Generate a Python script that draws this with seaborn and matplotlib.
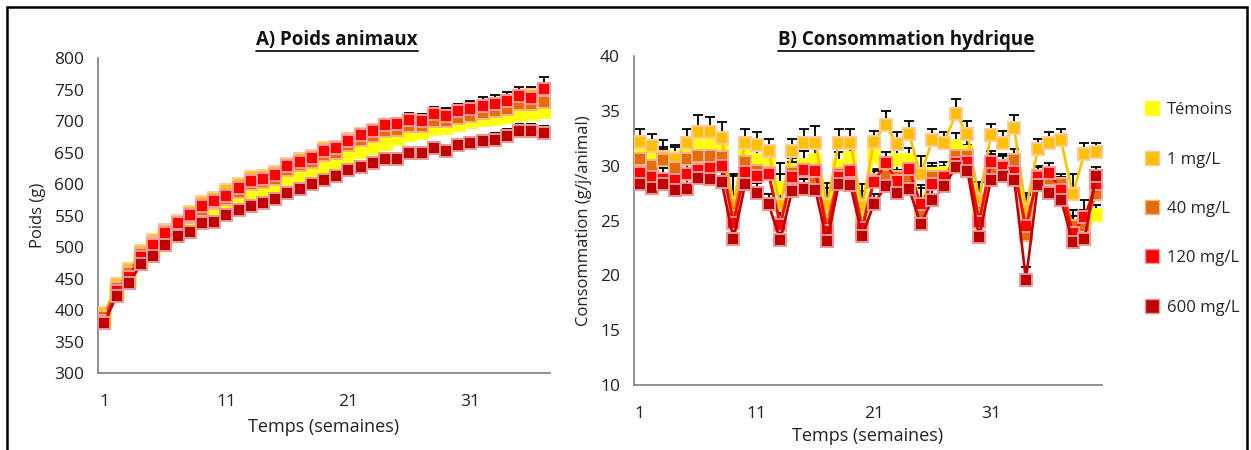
import numpy as np
import pandas as pd
import matplotlib
matplotlib.use("Agg")
import matplotlib.pyplot as plt
from matplotlib.lines import Line2D
from matplotlib.patches import Rectangle
import seaborn as sns

# ---------------- data ----------------
groups = ["Témoins", "1 mg/L", "40 mg/L", "120 mg/L", "600 mg/L"]
colors = ["#FFFF00", "#FFC000", "#E46C0A", "#FF0000", "#C00000"]
edges = ["#FFFF30", "#FCCB9A", "#F2B38A", "#FF9A9A", "#E59A9A"]

weeks_a = list(range(1, 38))
poids_temoins = [385, 430, 450, 480, 498, 517, 527, 538, 551, 562, 569, 578, 586, 591, 597, 610, 615, 620, 628,
                 636, 645, 653, 660, 666, 674, 680, 683, 690, 691, 696, 700, 703, 706, 708, 712, 713, 716]
poids_1 = [395, 441, 465, 494, 512, 528, 542, 556, 572, 578, 591, 600, 612, 614, 620, 632, 640, 645, 657,
           660, 672, 680, 686, 694, 695, 700, 700, 708, 707, 713, 717, 721, 725, 729, 735, 742, 745]
poids_40 = [390, 435, 459, 490, 507, 524, 538, 548, 560, 570, 577, 588, 600, 604, 608, 622, 630, 636, 646,
            650, 662, 670, 676, 684, 686, 692, 692, 700, 700, 706, 709, 713, 717, 720, 727, 728, 731]
poids_120 = [383, 430, 453, 485, 503, 522, 539, 551, 565, 574, 581, 594, 606, 609, 615, 629, 636, 642, 653,
             657, 669, 678, 685, 694, 695, 702, 701, 711, 709, 716, 720, 725, 728, 733, 740, 737, 751]
poids_600 = [380, 423, 443, 473, 487, 504, 518, 524, 538, 540, 551, 559, 566, 571, 576, 587, 592, 600, 607,
             613, 622, 628, 634, 640, 640, 649, 650, 657, 653, 662, 665, 669, 671, 677, 685, 685, 681]

err_poids_temoins = [4, 4, 5, 5, 5, 5, 6, 6, 6, 6, 6, 7, 7, 7, 7, 7, 8, 8, 8,
                     8, 8, 8, 9, 9, 9, 9, 9, 10, 10, 10, 10, 10, 10, 11, 11, 11, 12]
err_poids_1 = [5, 5, 5, 6, 6, 6, 6, 7, 7, 7, 7, 8, 8, 8, 8, 8, 9, 9, 9,
               9, 9, 10, 10, 10, 10, 10, 11, 11, 11, 11, 12, 12, 12, 12, 13, 13, 14]
err_poids_40 = [5, 5, 5, 6, 6, 6, 6, 7, 7, 7, 7, 8, 8, 8, 8, 8, 9, 9, 9,
                9, 9, 10, 10, 10, 10, 10, 11, 11, 11, 11, 12, 12, 12, 12, 13, 13, 14]
err_poids_120 = [5, 5, 6, 6, 6, 6, 7, 7, 7, 7, 8, 8, 8, 8, 8, 9, 9, 9, 9,
                 9, 10, 10, 10, 10, 10, 11, 11, 12, 12, 12, 12, 13, 13, 13, 14, 15, 20]
err_poids_600 = [4, 4, 5, 5, 5, 5, 6, 6, 6, 6, 6, 7, 7, 7, 7, 7, 8, 8, 8,
                 8, 8, 8, 9, 9, 9, 9, 9, 10, 10, 10, 10, 10, 10, 11, 11, 11, 12]

weeks_b = list(range(1, 41))
conso_temoins = [31.4, 31.0, 30.5, 30.7, 31.5, 32.1, 32.1, 31.8, 26.6, 31.5, 30.5, 30.5, 28.0, 29.6,
                 30.1, 30.5, 26.0, 30.0, 30.7, 25.7, 30.9, 28.7, 30.5, 30.5, 26.5, 29.2, 29.3, 31.8,
                 31.2, 25.4, 30.1, 30.0, 29.9, 25.8, 28.1, 28.7, 28.0, 24.2, 23.6, 25.5]
conso_1 = [32.2, 31.8, 30.8, 30.6, 32.1, 33.1, 33.1, 32.5, 26.5, 32.1, 31.9, 31.3, 26.4, 31.3,
           32.1, 32.1, 26.4, 32.1, 32.1, 26.3, 32.2, 33.7, 32.0, 32.9, 29.2, 32.3, 32.1, 34.7,
           32.9, 26.9, 32.8, 32.1, 33.4, 26.0, 31.5, 32.1, 32.3, 27.4, 31.1, 31.2]
conso_40 = [30.6, 30.0, 30.5, 29.8, 30.6, 30.9, 30.9, 30.8, 25.4, 30.3, 29.5, 29.3, 24.8, 29.3,
            29.5, 28.9, 24.8, 29.2, 29.3, 24.6, 28.7, 29.1, 29.0, 28.8, 25.5, 29.0, 28.8, 30.9,
            30.9, 25.0, 29.6, 30.0, 30.5, 23.7, 29.1, 28.8, 28.3, 24.5, 24.5, 27.4]
conso_120 = [29.3, 29.0, 28.8, 28.7, 29.2, 29.6, 29.8, 30.0, 24.8, 29.4, 29.1, 29.2, 24.6, 29.0,
             29.6, 29.5, 24.0, 29.0, 29.5, 24.3, 28.5, 30.2, 28.6, 29.7, 26.5, 28.3, 29.0, 30.2,
             30.3, 24.9, 30.3, 29.9, 29.4, 24.5, 29.0, 29.3, 27.8, 23.9, 25.3, 28.3]
conso_600 = [28.3, 28.0, 28.3, 27.8, 27.9, 28.9, 28.8, 28.5, 23.3, 28.3, 27.5, 26.5, 23.2, 27.7,
             27.9, 27.8, 23.1, 28.3, 28.2, 23.6, 26.5, 28.1, 27.5, 27.9, 24.7, 26.9, 28.1, 29.9,
             29.5, 23.5, 28.7, 29.1, 28.7, 19.6, 28.2, 27.5, 26.9, 23.0, 23.3, 29.1]

err_conso_temoins = [1.0, 1.0, 1.2, 1.0, 1.1, 1.3, 1.3, 1.2, 2.6, 1.1, 1.2, 1.1, 2.2, 1.1,
                     1.2, 1.2, 2.0, 1.2, 1.2, 2.0, 1.0, 1.2, 1.1, 1.1, 1.7, 1.0, 1.0, 1.2,
                     1.1, 1.6, 1.0, 1.1, 1.2, 1.5, 0.9, 1.0, 1.0, 1.8, 1.5, 0.9]
err_conso_1 = [1.1, 1.1, 1.5, 1.3, 1.2, 1.5, 1.3, 1.5, 2.6, 1.2, 1.2, 1.1, 2.8, 1.1,
               1.2, 1.5, 2.0, 1.2, 1.2, 2.0, 1.0, 1.3, 1.1, 1.2, 1.7, 1.0, 1.0, 1.4,
               1.2, 1.6, 1.0, 1.1, 1.2, 1.5, 0.9, 1.0, 1.0, 1.8, 1.0, 0.9]
err_conso_40 = [0.9, 0.9, 1.0, 1.0, 1.0, 1.1, 1.1, 1.0, 2.0, 1.0, 1.0, 1.0, 2.0, 1.0,
                1.0, 1.0, 1.8, 1.0, 1.0, 1.8, 1.0, 1.0, 1.0, 1.0, 1.5, 1.0, 1.0, 1.0,
                1.0, 1.5, 1.0, 1.0, 1.0, 1.5, 0.9, 0.9, 0.9, 1.5, 1.5, 0.9]
err_conso_120 = [0.9, 0.9, 1.0, 1.0, 1.0, 1.1, 1.1, 1.0, 2.0, 1.0, 1.0, 1.0, 2.0, 1.0,
                 1.0, 1.0, 1.8, 1.0, 1.0, 1.8, 1.0, 1.0, 1.0, 1.0, 1.5, 1.0, 1.0, 1.0,
                 1.0, 1.5, 1.0, 1.0, 1.0, 1.5, 0.9, 0.9, 0.9, 1.5, 1.6, 0.9]
err_conso_600 = [0.8, 0.8, 0.9, 0.9, 0.9, 1.0, 1.0, 0.9, 1.8, 0.9, 0.9, 0.9, 1.8, 0.9,
                 0.9, 0.9, 1.6, 0.9, 0.9, 1.6, 0.9, 0.9, 0.9, 0.9, 1.4, 0.9, 0.9, 0.9,
                 0.9, 1.4, 0.9, 0.9, 0.9, 1.2, 0.8, 0.8, 0.8, 1.4, 1.4, 0.8]

poids = [poids_temoins, poids_1, poids_40, poids_120, poids_600]
err_poids = [err_poids_temoins, err_poids_1, err_poids_40, err_poids_120, err_poids_600]
conso = [conso_temoins, conso_1, conso_40, conso_120, conso_600]
err_conso = [err_conso_temoins, err_conso_1, err_conso_40, err_conso_120, err_conso_600]


def long_df(weeks, series):
    frames = []
    for g, vals in zip(groups, series):
        frames.append(pd.DataFrame({"semaine": weeks, "valeur": vals, "groupe": g}))
    return pd.concat(frames, ignore_index=True)


# ---------------- figure ----------------
sns.set_theme(style="white")
plt.rcParams["font.family"] = ["Open Sans", "DejaVu Sans"]
palette = dict(zip(groups, colors))

fig = plt.figure(figsize=(12.51, 4.5), dpi=100)
ax1 = fig.add_axes([0.0786, 0.1704, 0.3608, 0.7])
ax2 = fig.add_axes([0.5068, 0.1444, 0.3741, 0.7312])


def draw_panel(ax, weeks, series, errs, msize, yellow_size):
    df = long_df(weeks, series)
    sns.lineplot(data=df, x="semaine", y="valeur", hue="groupe", hue_order=groups,
                 palette=palette, marker="s", markersize=msize,
                 markeredgewidth=1.4, linewidth=1.9, legend=False, ax=ax, zorder=3)
    # lighter edge per series, like the glow of the original squares
    for line, ec in zip(ax.lines, edges):
        line.set_markeredgecolor(ec)
    ax.lines[0].set_markersize(yellow_size)
    for vals, e in zip(series, errs):
        ax.errorbar(weeks, vals, yerr=[np.zeros(len(e)), e], fmt="none", ecolor="black",
                    elinewidth=1.3, capsize=3.5, capthick=1.3, zorder=2.5)


draw_panel(ax1, weeks_a, poids, err_poids, 8.8, 10.5)
draw_panel(ax2, weeks_b, conso, err_conso, 8.2, 8.6)


def style_axis(ax, n, ymin, ymax, step, ylabel, xpad):
    ax.set_xlim(0.5, n + 0.5)
    ax.set_ylim(ymin, ymax)
    ax.set_yticks(np.arange(ymin, ymax + 1, step))
    ax.set_xticks([1, 11, 21, 31])
    ax.set_xticklabels(["1", "11", "21", "31"])
    ax.set_xticks(np.arange(0.5, n + 1, 1), minor=True)
    ax.tick_params(axis="x", which="major", length=0, labelsize=12.5, pad=15, colors="#222222")
    ax.tick_params(axis="x", which="minor", length=6, width=1, direction="out", color="#7f7f7f")
    ax.tick_params(axis="y", which="major", length=6, width=1, direction="out", color="#7f7f7f",
                   labelsize=12.5, pad=4, labelcolor="#222222")
    for s in ["top", "right"]:
        ax.spines[s].set_visible(False)
    for s in ["left", "bottom"]:
        ax.spines[s].set_color("#7f7f7f")
        ax.spines[s].set_linewidth(1.2)
    ax.set_xlabel("Temps (semaines)", fontsize=13, labelpad=xpad, color="#222222")
    ax.set_ylabel(ylabel, fontsize=12, labelpad=6, color="#222222")
    ax.grid(False)


style_axis(ax1, 37, 300, 800, 50, "Poids (g)", 6)
style_axis(ax2, 40, 10, 40, 5, "Consommation (g/j/animal)", 4)

# legend
handles = [Line2D([], [], marker="s", linestyle="none", markersize=9.5, color=c,
                  markeredgecolor=ec, markeredgewidth=1.0) for c, ec in zip(colors, edges)]
ax2.legend(handles, groups, loc="upper left", bbox_to_anchor=(1.06, 0.905), frameon=False,
           fontsize=12, handlelength=0.8, handletextpad=0.5, labelspacing=2.0)

# titles (underlined)
t1 = fig.text(337 / 1251, 1 - 40 / 450, "A) Poids animaux", ha="center", va="center",
              fontsize=13.5, fontweight="bold", color="#111111")
t2 = fig.text(906 / 1251, 1 - 40 / 450, "B) Consommation hydrique", ha="center", va="center",
              fontsize=13.5, fontweight="bold", color="#111111")
fig.canvas.draw()
for t in (t1, t2):
    bb = t.get_window_extent()
    y = bb.y0 - 1
    fig.add_artist(Line2D([bb.x0, bb.x1], [y, y], transform=None, color="#111111", lw=1.3))

# outer frame
fig.add_artist(Rectangle((7 / 1251, -0.05), 1240 / 1251, 1.05 - 7 / 450, transform=fig.transFigure,
                         fill=False, edgecolor="black", linewidth=1.8))

fig.savefig("out.png", dpi=100)
